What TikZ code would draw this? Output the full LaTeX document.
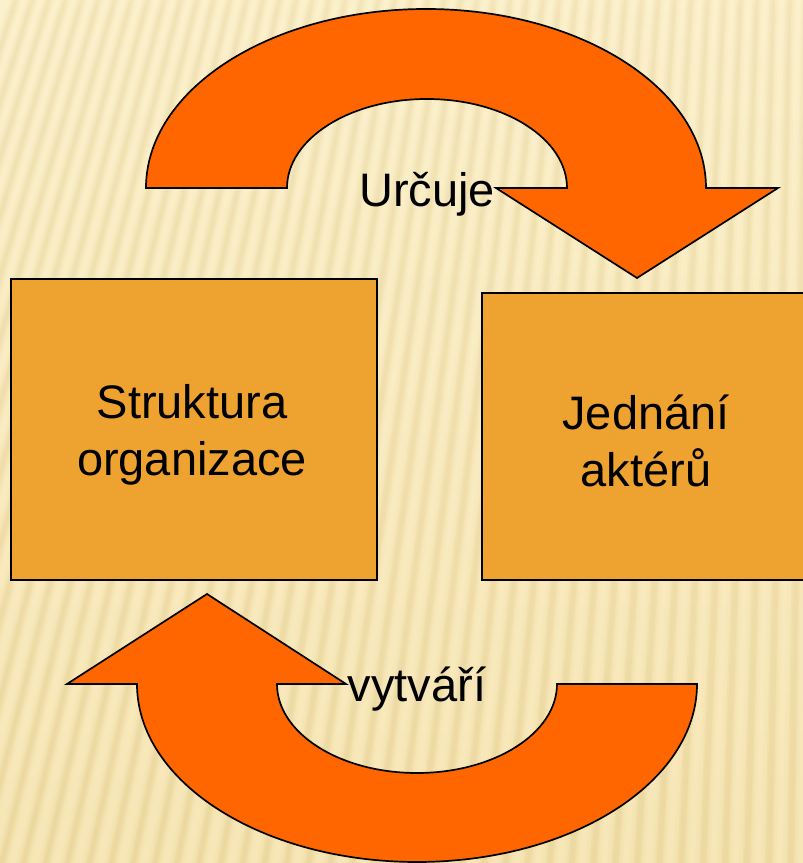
\documentclass[tikz,border=0pt]{standalone}
\usepackage{fontspec}
\setmainfont{Liberation Sans}
\usetikzlibrary{fadings}
\definecolor{bgtop}{HTML}{FCF1CD}
\definecolor{bgbot}{HTML}{F7E6B6}
\definecolor{stripecol}{HTML}{E3CA86}
\definecolor{arroworange}{HTML}{FF6600}
\definecolor{boxfill}{HTML}{EEA330}
\newcommand\bigfont{\fontsize{47pt}{56.5pt}\selectfont}
\tikzset{
  box/.style={draw=black, line width=1.5pt, fill=boxfill, align=center, font=\bigfont, inner sep=0pt},
  bigarrow/.style={draw=black, line width=1.7pt, fill=arroworange, line join=miter},
  lbl/.style={font=\bigfont, inner sep=0pt, anchor=base},
}
\begin{document}
\begin{tikzpicture}[x=1pt,y=1pt]
\useasboundingbox (0,0) rectangle (803,863);
% background
\fill[bottom color=bgbot, top color=bgtop] (0,0) rectangle (803,863);
\begin{scope}
  \clip (0,0) rectangle (803,863);
  \foreach \w/\o in {12/0.07, 7/0.10, 3/0.12} {
    \draw[stripecol, line width=\w pt, opacity=\o]
      foreach \i in {-12,...,44} { ({\i*22}, -10) -- ({850+(\i*22-850)*0.7458}, 873) };
    \draw[stripecol, line width=\w pt, opacity=\o, path fading=north]
      foreach \i in {-12,...,44} { ({\i*22}, -10) -- ({850+(\i*22-850)*0.7458}, 873) };
  }
\end{scope}
% boxes
\node[box, minimum width=366pt, minimum height=301pt] (struktura) at (194,433.5) {};
\node[font=\bigfont, align=center, inner sep=0pt] (strukturaText) at (192,428) {Struktura\\organizace};
\node[box, minimum width=328pt, minimum height=287pt] (jednani) at (646,426.5) {};
\node[font=\bigfont, align=center, inner sep=0pt] (jednaniText) at (646,422) {Jednání\\aktérů};
% top arrow
\draw[bigarrow] (146,675) arc[start angle=180, end angle=0, x radius=280pt, y radius=179pt]
  -- (778,675) -- (637,585) -- (496,675) -- (567,675)
  arc[start angle=0, end angle=180, x radius=140pt, y radius=89pt] -- cycle;
% bottom arrow
\draw[bigarrow] (67,179) -- (207,269) -- (346,179) -- (277,179)
  arc[start angle=180, end angle=360, x radius=140pt, y radius=89pt]
  -- (697,179) arc[start angle=0, end angle=-180, x radius=280pt, y radius=178pt] -- cycle;
% labels
\node[lbl] (urcuje) at (427,656) {Určuje};
\node[lbl] (vytvari) at (417,161) {vytváří};
\end{tikzpicture}
\end{document}
